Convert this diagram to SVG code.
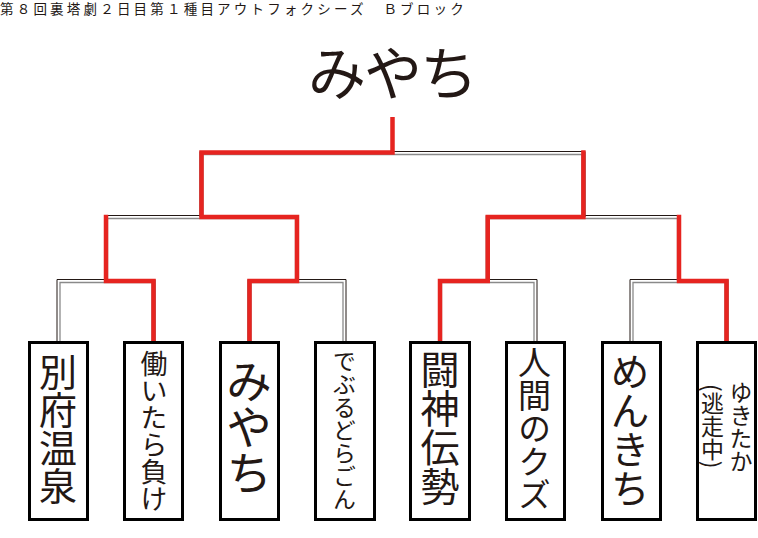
<svg xmlns="http://www.w3.org/2000/svg" width="758" height="538" viewBox="0 0 758 538">
<style>
.t{font-family:"Noto Sans CJK JP","Noto Sans CJK SC",sans-serif;fill:#231815}
.v{writing-mode:vertical-rl;font-family:"Noto Sans CJK JP","Noto Sans CJK SC",sans-serif;fill:#231815}
.ob{fill:none;stroke:#231815;stroke-width:1}
.ig{fill:none;stroke:#8a8a8a;stroke-width:1.3}
.red{fill:none;stroke:#e62420;stroke-width:4.5;stroke-linejoin:miter;stroke-linecap:butt}
.box{fill:#fff;stroke:#000;stroke-width:3}
</style>
<rect width="758" height="538" fill="#fff"/>
<text class="t" x="0" y="13.5" font-size="13.5" letter-spacing="3.2">第８回裏塔劇２日目第１種目アウトフォクシーズ　Ｂブロック</text>
<g id="winner">
<text class="t" x="392" y="95" font-size="58" text-anchor="middle" letter-spacing="-2">みやち</text>
</g>
<g id="connectors">
<path class="ob" d="M57,343 V279.5 H155 V343"/>
<path class="ig" d="M60,343 V282.5 H152 V343"/>
<path class="ob" d="M248,343 V279.5 H346 V343"/>
<path class="ig" d="M251,343 V282.5 H343 V343"/>
<path class="ob" d="M438.5,343 V279.5 H537 V343"/>
<path class="ig" d="M441.5,343 V282.5 H534 V343"/>
<path class="ob" d="M630,343 V279.5 H728 V343"/>
<path class="ig" d="M633,343 V282.5 H725 V343"/>
<path class="ob" d="M104.5,281 V215.5 H298.5 V281"/>
<path class="ig" d="M107.5,281 V218.5 H295.5 V281"/>
<path class="ob" d="M486.25,281 V215.5 H680.5 V281"/>
<path class="ig" d="M489.25,281 V218.5 H677.5 V281"/>
<path class="ob" d="M200,217 V151.5 H585 V217"/>
<path class="ig" d="M203,217 V154.5 H582 V217"/>
<path class="red" d="M153.5,343 V281 H106 V214.75"/>
<path class="red" d="M726.5,343 V281 H679 V214.75"/>
<path class="red" d="M440,343 V281 H487.75 V217 H583.4 V150.25"/>
<path class="red" d="M249.5,343 V281 H297 V217 H201.5 V152.5 H392.5 V117"/>
</g>
<g id="n1"><rect class="box" x="29.5" y="342.5" width="58" height="177"/><text class="v" x="58" y="353" font-size="38">別府温泉</text></g>
<g id="n2"><rect class="box" x="124.5" y="342.5" width="58" height="177"/><text class="v" x="154" y="350" font-size="27">働いたら負け</text></g>
<g id="n3"><rect class="box" x="220.5" y="342.5" width="58" height="177"/><text class="v" x="249" y="358" font-size="46">みやち</text></g>
<g id="n4"><rect class="box" x="315.5" y="342.5" width="59" height="177"/><text class="v" x="344.5" y="350" font-size="23">でぶるどらごん</text></g>
<g id="n5"><rect class="box" x="410.5" y="342.5" width="59" height="177"/><text class="v" x="440" y="350" font-size="39">闘神伝勢</text></g>
<g id="n6"><rect class="box" x="506.5" y="342.5" width="58" height="177"/><text class="v" x="534.5" y="346" font-size="33">人間のクズ</text></g>
<g id="n7"><rect class="box" x="602.5" y="342.5" width="58" height="177"/><text class="v" x="630" y="352" font-size="39">めんきち</text></g>
<g id="n8"><rect class="box" x="697.5" y="342.5" width="58" height="177"/><text class="v" x="741" y="381" font-size="23">ゆきたか</text><text class="v" x="712.5" y="384" font-size="23">(逃走中)</text></g>
</svg>
